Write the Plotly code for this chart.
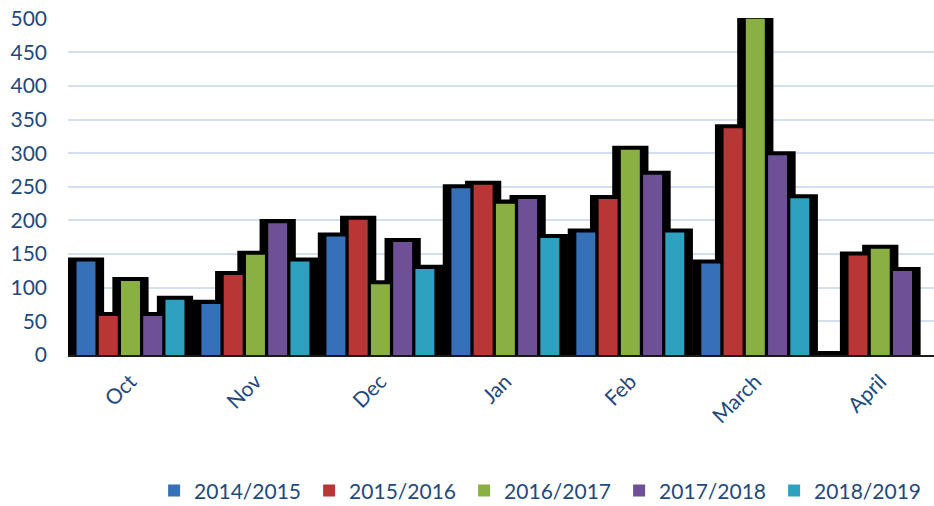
import plotly.graph_objects as go

months = ["Oct", "Nov", "Dec", "Jan", "Feb", "March", "April"]
seasons = ["2014/2015", "2015/2016", "2016/2017", "2017/2018", "2018/2019"]

s2014_2015 = [139, 76, 176, 248, 182, 136, 0]
s2015_2016 = [58, 119, 201, 253, 232, 337, 148]
s2016_2017 = [110, 149, 105, 225, 305, 500, 158]
s2017_2018 = [58, 196, 168, 232, 268, 297, 125]
s2018_2019 = [82, 139, 128, 174, 182, 233, None]

series = [s2014_2015, s2015_2016, s2016_2017, s2017_2018, s2018_2019]
colors = ["#3570B8", "#B93636", "#8AAF42", "#6D5096", "#2EA0C0"]

y_ticks = [0, 50, 100, 150, 200, 250, 300, 350, 400, 450, 500]

BAR_W = 0.152
STEP = 0.178
SHADOW_W = 0.29
SHADOW_PAD = 6
TXT = "#1F497D"
FONT = "Lato"

fig = go.Figure()

# black halo behind each bar
for i, vals in enumerate(series):
    center = (i - 2) * STEP
    fig.add_trace(go.Bar(
        x=months,
        y=[None if v is None else v + SHADOW_PAD for v in vals],
        width=SHADOW_W,
        offset=center - SHADOW_W / 2,
        marker=dict(color="black", line=dict(width=0)),
        showlegend=False,
        hoverinfo="skip",
    ))

for i, (name, vals) in enumerate(zip(seasons, series)):
    center = (i - 2) * STEP
    fig.add_trace(go.Bar(
        x=months,
        y=vals,
        name=name,
        width=BAR_W,
        offset=center - BAR_W / 2,
        marker=dict(color=colors[i], line=dict(width=0)),
    ))

fig.update_layout(
    barmode="overlay",
    width=934,
    height=506,
    margin=dict(l=68, r=0, t=18, b=151, autoexpand=False),
    paper_bgcolor="white",
    plot_bgcolor="white",
    font=dict(family=FONT, size=21, color=TXT),
    legend=dict(
        orientation="h",
        xref="container", yref="container",
        x=0.165, y=0.03,
        xanchor="left", yanchor="middle",
        font=dict(family=FONT, size=21, color=TXT),
        entrywidth=110,
        entrywidthmode="pixels",
        traceorder="normal",
        itemwidth=30,
        bgcolor="rgba(0,0,0,0)",
    ),
    xaxis=dict(
        type="category",
        range=[-0.5, 6.43],
        tickangle=-45,
        showgrid=False,
        showline=True,
        linecolor="#1A1A1A",
        linewidth=2,
        ticks="",
        ticklabelstandoff=4,
        automargin=False,
        tickfont=dict(family=FONT, size=21, color=TXT),
    ),
    yaxis=dict(
        range=[0, 501],
        tickvals=y_ticks,
        showgrid=True,
        gridcolor="#D3DEF0",
        gridwidth=2,
        zeroline=False,
        showline=False,
        ticks="",
        ticklabelstandoff=20,
        automargin=False,
        tickfont=dict(family=FONT, size=21, color=TXT),
    ),
)

fig.write_html(
    "out.html",
    config={"displayModeBar": False},
    post_script="document.body.style.margin='0px';document.body.style.overflow='hidden';",
)
